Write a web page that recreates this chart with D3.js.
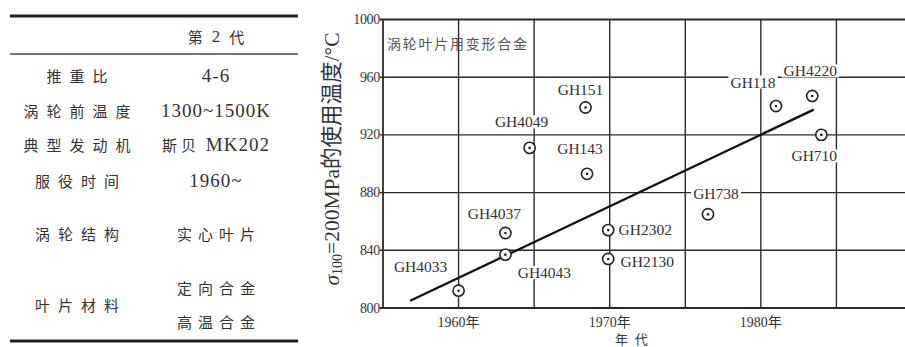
<!DOCTYPE html>
<html>
<head>
<meta charset="utf-8">
<script src="https://cdn.jsdelivr.net/npm/d3@7"></script>
<style>
  html, body { margin: 0; padding: 0; background: #fff; }
  svg { display: block; }
</style>
</head>
<body>
<svg id="chart" width="905" height="347"></svg>
<script>
// ---- Table: second-generation engine parameters ----
const tableHeader = "第 2 代";
const rowLabels = ["推重比", "涡轮前温度", "典型发动机", "服役时间", "涡轮结构", "叶片材料"];
const rowValues = [["4-6"], ["1300~1500K"], ["斯贝 MK202"], ["1960~"], ["实心叶片"], ["定向合金", "高温合金"]];

// ---- Scatter: wrought alloys for turbine blades ----
const alloyNames = ["GH4033", "GH4043", "GH4037", "GH4049", "GH151", "GH143",
                    "GH2302", "GH2130", "GH738", "GH118", "GH4220", "GH710"];
const alloyYears = [1960.0, 1963.1, 1963.1, 1964.7, 1968.4, 1968.5,
                    1969.9, 1969.9, 1976.5, 1981.0, 1983.4, 1984.0];
const alloyTemps = [812, 837, 852, 911, 939, 893, 854, 834, 865, 940, 947, 920];

// fitted trend line (start / end)
const trendYears = [1956.8, 1983.5];
const trendTemps = [805, 937.5];

const yTicks = [800, 840, 880, 920, 960, 1000];
const xGridYears = [1955, 1960, 1965, 1970, 1975, 1980, 1985, 1990];
const xTickYears = [1960, 1970, 1980];
const xTickLabels = ["1960年", "1970年", "1980年"];
const xTitle = "年 代";
const noteText = "涡轮叶片用变形合金";

// label placement relative to each marker (layout only)
const labelOffsets = {
  GH4033: [-38, -24], GH4043: [39, 18], GH4037: [-11, -19], GH4049: [-8, -26],
  GH151: [-5, -18], GH143: [-7, -25], GH2302: [37, -1], GH2130: [39, 3],
  GH738: [8, -21], GH118: [-23, -24], GH4220: [-2, -25], GH710: [-7, 21]
};

const svg = d3.select("#chart");
svg.append("rect").attr("width", 905).attr("height", 347).attr("fill", "#fff");

const serif = "'Liberation Serif', 'DejaVu Serif', serif";
const cjk = "'Noto Sans CJK SC', sans-serif";
const ink = "#333";
const isCJK = s => /^[\u4e00-\u9fff]+$/.test(s);

// ================= Table =================
const tbl = svg.append("g");
const tLeft = 10, tRight = 298, c1 = 77, c2 = 216;
tbl.append("line").attr("x1", tLeft).attr("x2", tRight).attr("y1", 16).attr("y2", 16)
  .attr("stroke", "#222").attr("stroke-width", 3);
tbl.append("line").attr("x1", tLeft).attr("x2", tRight).attr("y1", 54).attr("y2", 54)
  .attr("stroke", "#444").attr("stroke-width", 1.3);
tbl.append("line").attr("x1", tLeft).attr("x2", tRight).attr("y1", 341).attr("y2", 341)
  .attr("stroke", "#222").attr("stroke-width", 3);

function cjkText(g, x, y, txt, size, spacing) {
  const n = [...txt].length;
  g.append("text").attr("x", x).attr("y", y)
    .attr("text-anchor", "middle").attr("dominant-baseline", "central")
    .attr("font-family", cjk).attr("font-size", size).attr("fill", ink)
    .attr("textLength", n * size + (n - 1) * spacing).attr("lengthAdjust", "spacing")
    .text(txt);
}
// latin/CJK mixed cell: each word gets its own tspan so CJK stays smaller
function mixedText(g, x, y, txt) {
  const t = g.append("text").attr("x", x).attr("y", y)
    .attr("text-anchor", "middle").attr("dominant-baseline", "central")
    .attr("fill", ink);
  txt.split(" ").forEach((w, i) => {
    const s = t.append("tspan").text((i > 0 ? " " : "") + w);
    if (isCJK(w)) s.attr("font-family", cjk).attr("font-size", 15).attr("letter-spacing", 4);
    else s.attr("font-family", serif).attr("font-size", 19).attr("letter-spacing", 1);
  });
}

const hdr = tbl.append("text").attr("x", c2).attr("y", 36)
  .attr("text-anchor", "middle").attr("dominant-baseline", "central")
  .attr("fill", ink);
tableHeader.split(" ").forEach((w, i) => {
  hdr.append("tspan").attr("dx", i > 0 ? 9 : 0)
    .attr("font-family", isCJK(w) ? cjk : serif)
    .attr("font-size", isCJK(w) ? 15 : 17).text(w);
});

const rowY = [75, 110, 144, 180, 233, 304];
const valY = [[75], [110], [144], [180], [233], [287, 321]];
rowLabels.forEach((lab, i) => {
  cjkText(tbl, c1, rowY[i], lab, 15, 8);
  rowValues[i].forEach((v, j) => {
    if (isCJK(v)) cjkText(tbl, c2, valY[i][j], v, 15, 6);
    else mixedText(tbl, c2, valY[i][j], v);
  });
});

// ================= Chart =================
const x = d3.scaleLinear().domain([1955, 1990]).range([383, 912]);
const y = d3.scaleLinear().domain([800, 1000]).range([308, 19.5]);
const plot = svg.append("g");
const gridColor = "#2a2a2a";

// vertical grid
plot.selectAll("line.vg").data(xGridYears).join("line")
  .attr("x1", d => x(d)).attr("x2", d => x(d))
  .attr("y1", y(1000)).attr("y2", y(800))
  .attr("stroke", gridColor).attr("stroke-width", d => d === 1955 ? 1.8 : 1.4);
// horizontal grid, with short outward ticks
plot.selectAll("line.hg").data(yTicks).join("line")
  .attr("x1", x(1955) - 3).attr("x2", x(1990))
  .attr("y1", d => y(d)).attr("y2", d => y(d))
  .attr("stroke", gridColor).attr("stroke-width", d => (d === 800 || d === 1000) ? 1.8 : 1.4);

// y tick labels
plot.selectAll("text.yt").data(yTicks).join("text")
  .attr("x", x(1955) - 3).attr("y", d => y(d))
  .attr("text-anchor", "end").attr("dominant-baseline", "central")
  .attr("font-family", serif).attr("font-size", 14).attr("fill", ink)
  .attr("letter-spacing", -0.3)
  .text(d => d);

// x tick labels
plot.selectAll("text.xt").data(xTickYears).join("text")
  .attr("x", d => x(d)).attr("y", 322)
  .attr("text-anchor", "middle").attr("dominant-baseline", "central")
  .attr("font-family", serif + ", " + cjk).attr("font-size", 14).attr("fill", ink)
  .text((d, i) => xTickLabels[i]);

// x title
plot.append("text").attr("x", x(1971.5)).attr("y", 338)
  .attr("text-anchor", "middle").attr("dominant-baseline", "central")
  .attr("font-family", cjk).attr("font-size", 13).attr("fill", ink)
  .attr("letter-spacing", 2)
  .text(xTitle);

// y title (rotated)
const yt = plot.append("text")
  .attr("transform", "translate(332,159) rotate(-90)")
  .attr("text-anchor", "middle").attr("dominant-baseline", "central")
  .attr("font-family", serif + ", " + cjk).attr("font-size", 21.5).attr("fill", ink);
yt.append("tspan").attr("font-style", "italic").text("σ");
yt.append("tspan").attr("font-size", 14).attr("dy", 5).text("100");
yt.append("tspan").attr("dy", -5).text("=200MPa的使用温度/°C");

// note in top-left cell
plot.append("text").attr("x", 387).attr("y", 43)
  .attr("dominant-baseline", "central")
  .attr("font-family", cjk).attr("font-size", 14).attr("fill", "#555")
  .attr("textLength", 140).attr("lengthAdjust", "spacing")
  .text(noteText);

// trend line
plot.append("line")
  .attr("x1", x(trendYears[0])).attr("y1", y(trendTemps[0]))
  .attr("x2", x(trendYears[1])).attr("y2", y(trendTemps[1]))
  .attr("stroke", "#111").attr("stroke-width", 2.4);

// point labels with white backing
const pts = alloyNames.map((n, i) => ({ name: n, yr: alloyYears[i], t: alloyTemps[i] }));
const labG = plot.append("g");
pts.forEach(p => {
  const [dx, dy] = labelOffsets[p.name];
  const g = labG.append("g");
  const t = g.append("text")
    .attr("x", x(p.yr) + dx).attr("y", y(p.t) + dy)
    .attr("text-anchor", "middle").attr("dominant-baseline", "central")
    .attr("font-family", serif).attr("font-size", 15.5).attr("fill", ink)
    .text(p.name);
  const b = t.node().getBBox();
  g.insert("rect", "text").attr("x", b.x - 2).attr("y", b.y + 2)
    .attr("width", b.width + 4).attr("height", b.height - 4).attr("fill", "#fff");
});

// markers: ring with centre dot
const mk = plot.selectAll("g.mk").data(pts).join("g")
  .attr("transform", d => `translate(${x(d.yr)},${y(d.t)})`);
mk.append("circle").attr("r", 5.6).attr("fill", "#fff").attr("stroke", "#222").attr("stroke-width", 1.6);
mk.append("circle").attr("r", 1.3).attr("fill", "#222");
</script>
</body>
</html>
